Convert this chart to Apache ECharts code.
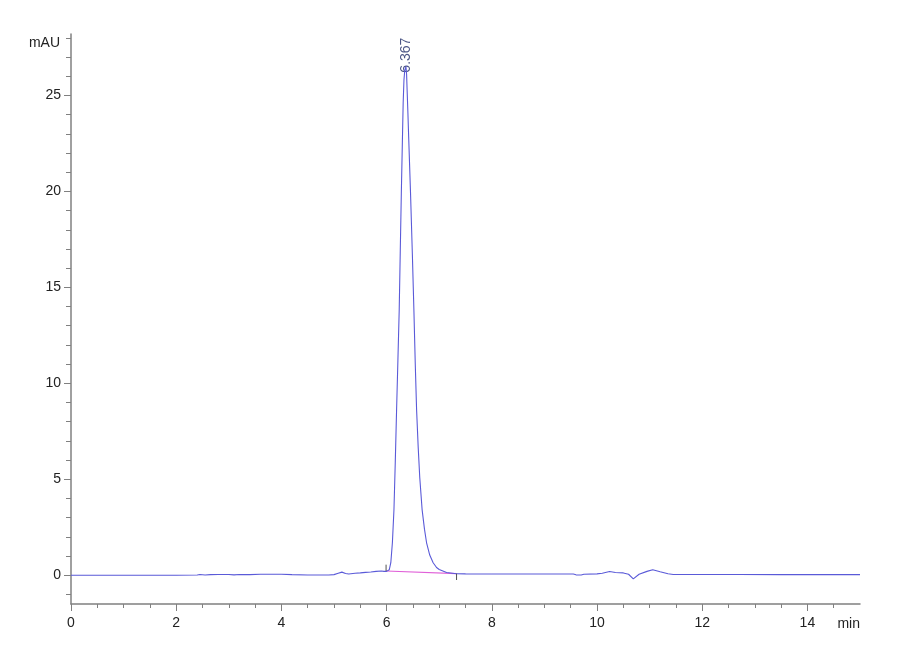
<!DOCTYPE html>
<html>
<head>
<meta charset="utf-8">
<script src="https://cdn.jsdelivr.net/npm/echarts@6/dist/echarts.min.js"></script>
<style>
html,body{margin:0;padding:0;background:#fff;}
#chart{width:900px;height:660px;}
</style>
</head>
<body>
<div id="chart"></div>
<script>
// Chromatogram trace: [time (min), absorbance (mAU)]
var trace = [
  [0.00,0.00],[1.00,0.00],[2.00,0.00],[2.40,0.01],[2.45,0.04],[2.55,0.01],[2.65,0.03],
  [2.80,0.04],[3.00,0.04],[3.10,0.02],[3.20,0.04],[3.40,0.03],[3.60,0.05],[3.80,0.05],
  [4.00,0.05],[4.20,0.03],[4.50,0.01],[4.90,0.01],[5.00,0.03],[5.08,0.10],[5.15,0.16],
  [5.22,0.09],[5.28,0.06],[5.40,0.10],[5.50,0.12],[5.60,0.15],[5.70,0.17],[5.80,0.20],
  [5.90,0.22],[5.95,0.20],[6.00,0.20],[6.05,0.28],[6.08,0.65],[6.11,1.69],[6.14,3.42],
  [6.165,5.90],[6.19,8.63],[6.215,11.20],[6.24,13.85],[6.26,16.90],[6.28,19.90],
  [6.30,22.60],[6.315,24.60],[6.33,25.80],[6.345,26.30],[6.367,26.50],[6.38,26.10],
  [6.39,25.30],[6.405,24.10],[6.42,22.80],[6.455,19.90],[6.49,16.70],[6.52,13.70],
  [6.545,11.00],[6.57,8.63],[6.60,6.70],[6.63,5.10],[6.675,3.42],[6.72,2.40],
  [6.76,1.69],[6.82,1.05],[6.885,0.65],[6.95,0.40],[7.00,0.30],[7.14,0.14],
  [7.33,0.08],[7.50,0.07],[8.00,0.06],[9.00,0.06],[9.55,0.06],[9.60,0.02],[9.70,0.01],
  [9.75,0.05],[10.00,0.07],[10.10,0.10],[10.24,0.19],[10.35,0.14],[10.50,0.12],
  [10.60,0.05],[10.69,-0.19],[10.80,0.05],[10.95,0.20],[11.06,0.28],[11.20,0.18],
  [11.35,0.08],[11.45,0.04],[12.00,0.04],[12.70,0.04],[13.50,0.03],[15.00,0.03]
];
// Integration baseline of the peak
var peakBaseline = [[5.99,0.22],[7.33,0.08]];
// Peak start / end markers
var startMark = [[5.99,0.22],[5.99,0.55]];
var endMark = [[7.33,0.08],[7.33,-0.25]];
// Peak apex with retention time label
var peakApex = [[6.367,26.5,'6.367']];

var xMajorTicks = [0,2,4,6,8,10,12,14];
var xMinorTicks = [0,0.5,1,1.5,2,2.5,3,3.5,4,4.5,5,5.5,6,6.5,7,7.5,8,8.5,9,9.5,10,10.5,11,11.5,12,12.5,13,13.5,14,14.5];
var yMajorTicks = [0,5,10,15,20,25];
var yMinorTicks = [-1,0,1,2,3,4,5,6,7,8,9,10,11,12,13,14,15,16,17,18,19,20,21,22,23,24,25,26,27,28];

var FONT = "'Liberation Sans Narrow','Liberation Sans',Arial,sans-serif";
var AXIS_COLOR = '#808080';

var chart = echarts.init(document.getElementById('chart'), null, {renderer:'canvas'});
chart.setOption({
  backgroundColor:'#ffffff',
  animation:false,
  grid:{left:71, right:40, top:34, bottom:56},
  xAxis:[{
    type:'value', min:0, max:15,
    name:'min', nameLocation:'end', nameGap:0,
    nameTextStyle:{color:'#222', fontFamily:FONT, fontSize:14, align:'right', verticalAlign:'top', padding:[13,0,0,0]},
    axisLine:{show:true, onZero:false, lineStyle:{color:AXIS_COLOR, width:1.5}},
    axisTick:{show:true, length:7, customValues:xMajorTicks, lineStyle:{color:AXIS_COLOR}},
    axisLabel:{customValues:xMajorTicks, color:'#222', fontFamily:FONT, fontSize:14, margin:12},
    splitLine:{show:false}
  },{
    type:'value', min:0, max:15, position:'bottom',
    axisLine:{show:false, onZero:false},
    axisTick:{show:true, length:4, customValues:xMinorTicks, lineStyle:{color:AXIS_COLOR}},
    axisLabel:{show:false},
    splitLine:{show:false}
  }],
  yAxis:[{
    type:'value', min:-1.5, max:28.2,
    name:'mAU', nameLocation:'end', nameGap:-9,
    nameTextStyle:{color:'#222', fontFamily:FONT, fontSize:14, align:'right', verticalAlign:'middle', padding:[0,11,0,0]},
    axisLine:{show:true, onZero:false, lineStyle:{color:AXIS_COLOR, width:1.5}},
    axisTick:{show:true, length:7, customValues:yMajorTicks, lineStyle:{color:AXIS_COLOR}},
    axisLabel:{customValues:yMajorTicks, color:'#222', fontFamily:FONT, fontSize:14, margin:10},
    splitLine:{show:false}
  },{
    type:'value', min:-1.5, max:28.2, position:'left',
    axisLine:{show:false, onZero:false},
    axisTick:{show:true, length:5, customValues:yMinorTicks, lineStyle:{color:AXIS_COLOR}},
    axisLabel:{show:false},
    splitLine:{show:false}
  }],
  series:[{
    type:'line', data:peakBaseline, showSymbol:false, silent:true,
    lineStyle:{color:'#e060d8', width:1.2}
  },{
    type:'line', data:trace, showSymbol:false, silent:true,
    lineStyle:{color:'#5a5ad8', width:1.1}
  },{
    type:'line', data:startMark, showSymbol:false, silent:true,
    lineStyle:{color:'#505050', width:1}
  },{
    type:'line', data:endMark, showSymbol:false, silent:true,
    lineStyle:{color:'#505050', width:1}
  },{
    type:'scatter', data:peakApex, symbolSize:0, silent:true,
    label:{show:true, formatter:function(p){return p.value[2];}, position:'top', rotate:90,
      align:'left', verticalAlign:'middle', distance:-6, color:'#1e2a66', fontFamily:FONT, fontSize:14}
  }]
});
</script>
</body>
</html>
